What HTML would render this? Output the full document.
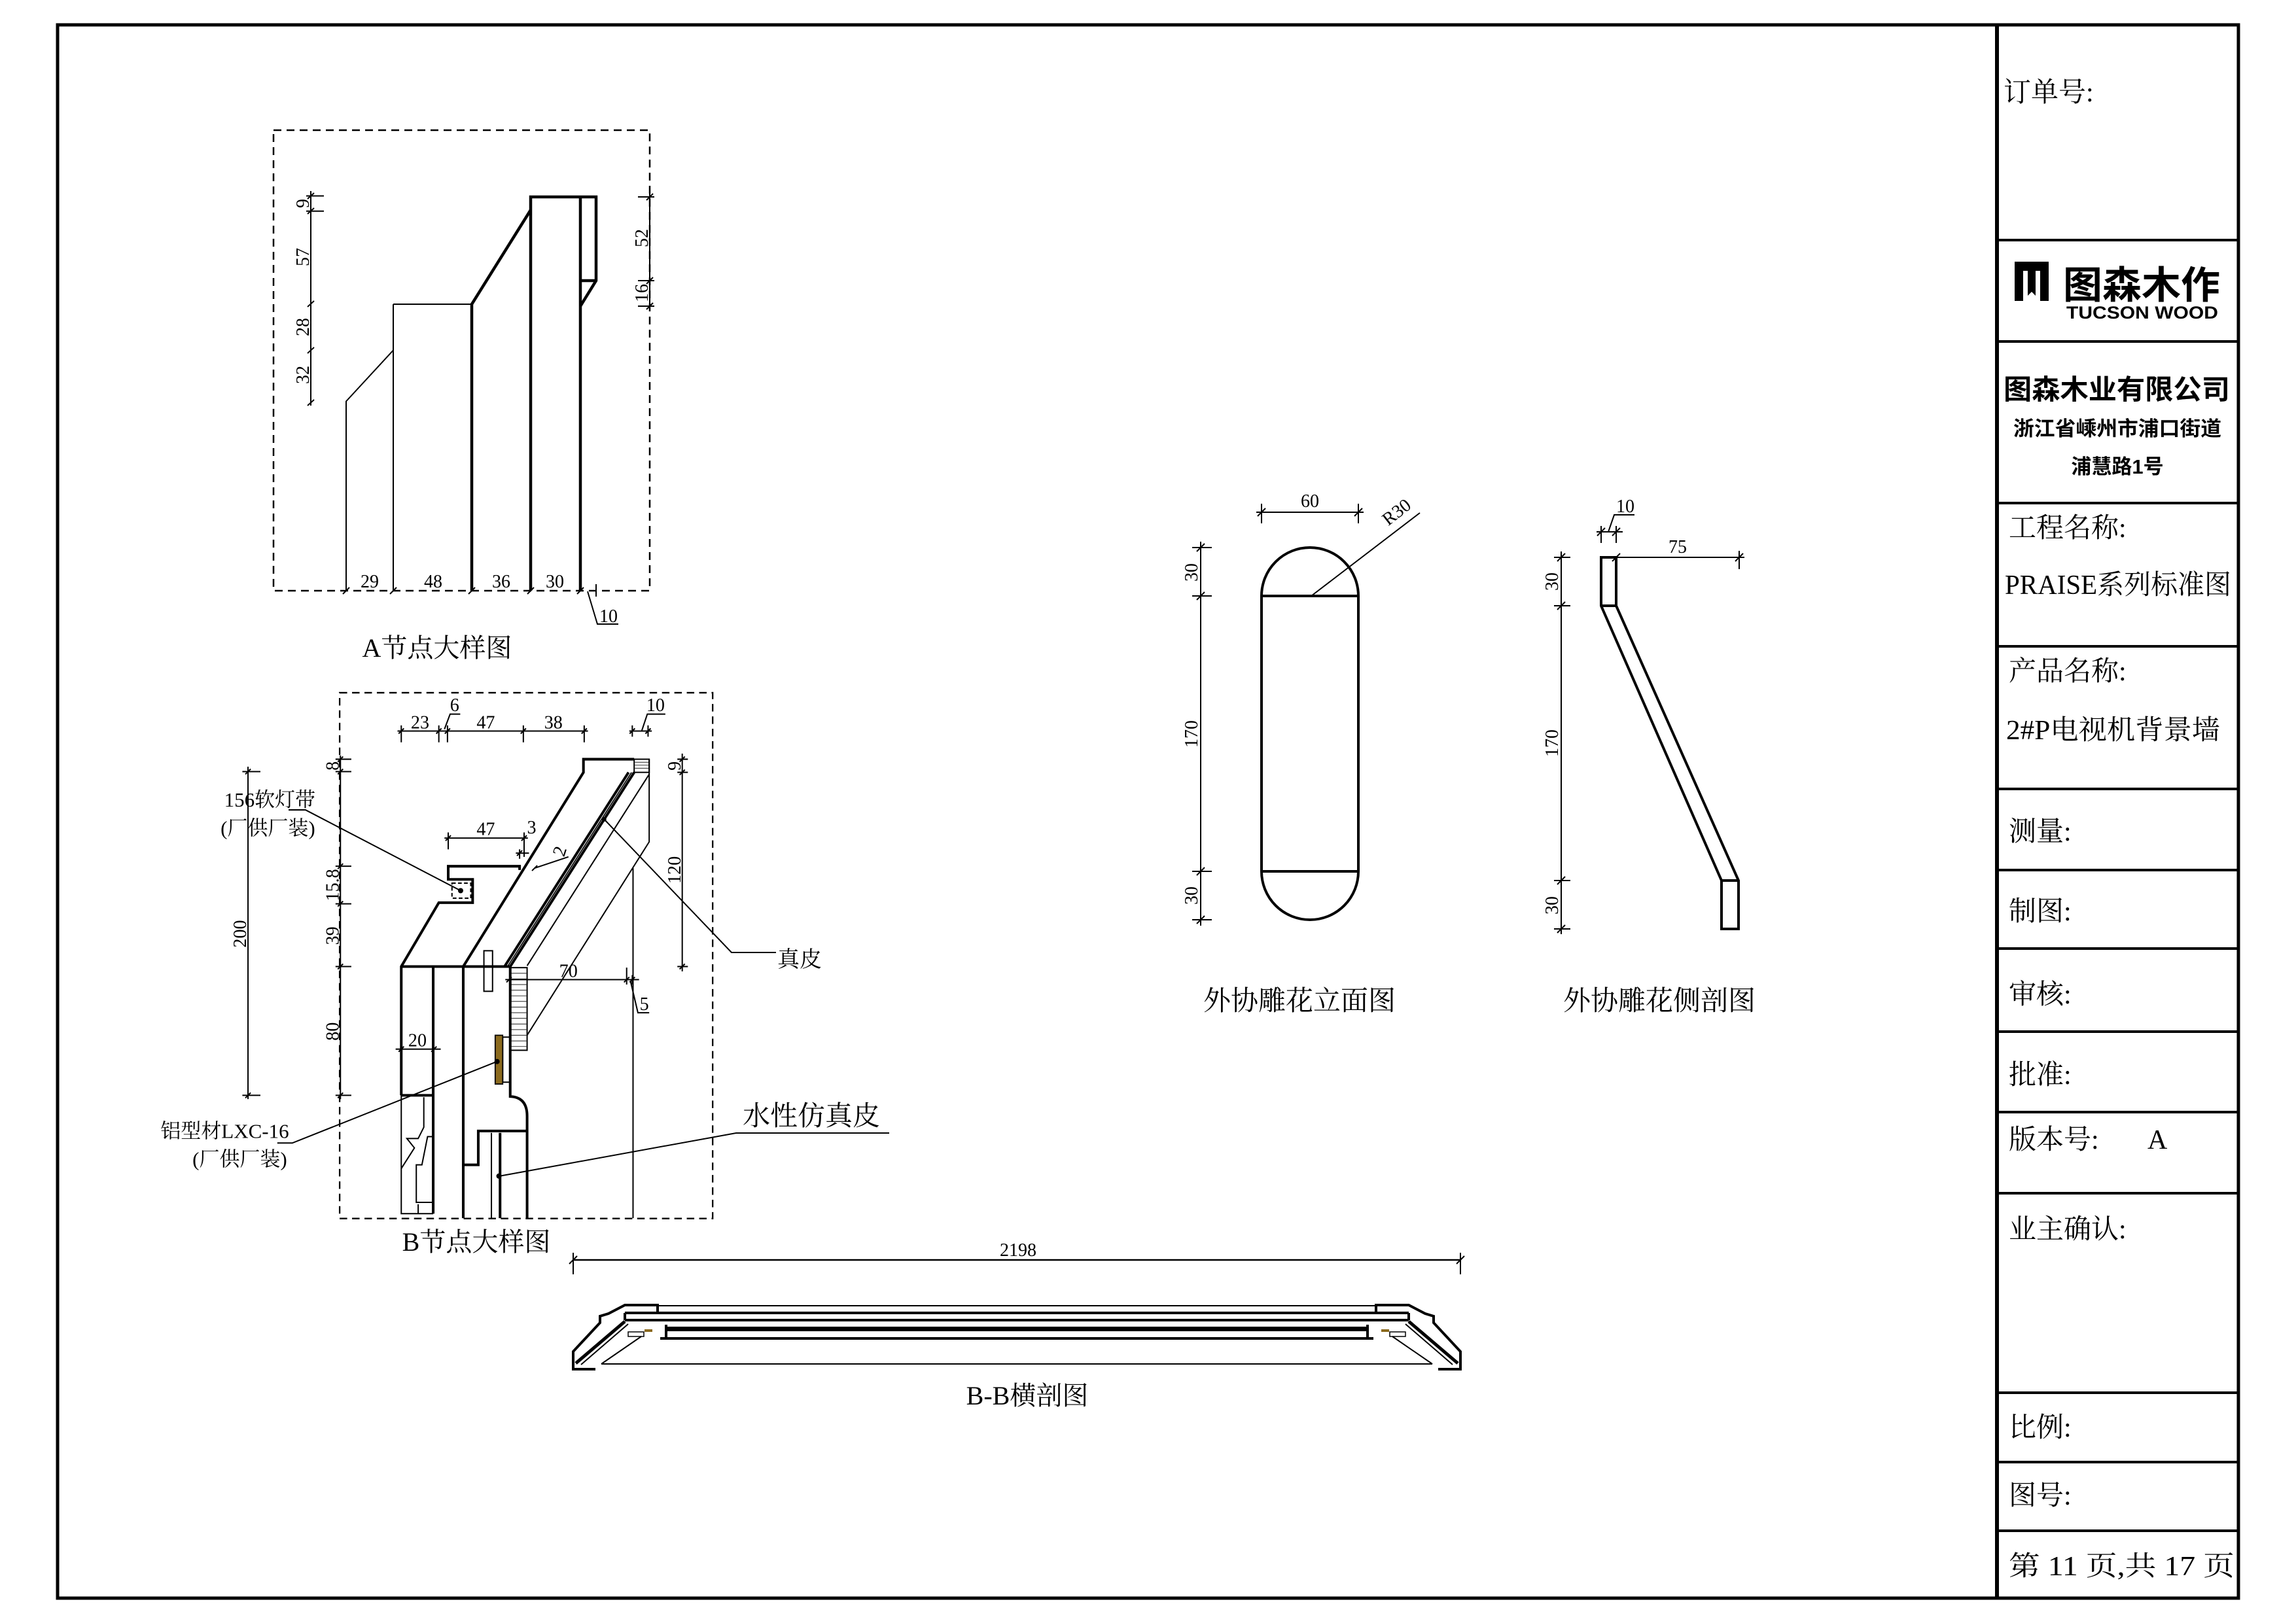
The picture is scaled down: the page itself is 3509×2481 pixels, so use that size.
<!DOCTYPE html>
<html><head><meta charset="utf-8"><style>
html,body{margin:0;padding:0;background:#fff}
svg{display:block}
text{font-family:"Liberation Serif","Noto Serif CJK SC",serif;fill:#000}
.s{font-family:"Liberation Sans","Noto Sans CJK SC",sans-serif;font-weight:bold}
</style></head><body>
<svg width="3509" height="2481" viewBox="0 0 3509 2481" xmlns="http://www.w3.org/2000/svg">
<rect width="3509" height="2481" fill="#fff"/>
<!-- outer frame -->
<rect x="88" y="38" width="3333" height="2405" fill="none" stroke="#000" stroke-width="5"/>
<line x1="3052" y1="38" x2="3052" y2="2443" stroke="#000" stroke-width="6"/>
<g stroke="#000" stroke-width="4">
<line x1="3052" y1="367" x2="3421" y2="367"/>
<line x1="3052" y1="522" x2="3421" y2="522"/>
<line x1="3052" y1="769" x2="3421" y2="769"/>
<line x1="3052" y1="988" x2="3421" y2="988"/>
<line x1="3052" y1="1206" x2="3421" y2="1206"/>
<line x1="3052" y1="1330" x2="3421" y2="1330"/>
<line x1="3052" y1="1450" x2="3421" y2="1450"/>
<line x1="3052" y1="1577" x2="3421" y2="1577"/>
<line x1="3052" y1="1700" x2="3421" y2="1700"/>
<line x1="3052" y1="1824" x2="3421" y2="1824"/>
<line x1="3052" y1="2129" x2="3421" y2="2129"/>
<line x1="3052" y1="2235" x2="3421" y2="2235"/>
<line x1="3052" y1="2340" x2="3421" y2="2340"/>
</g>
<!-- title block text -->
<g font-size="42">
<text x="3062" y="155">订单号:</text>
<text x="3070" y="821">工程名称:</text>
<text x="3064" y="908" textLength="346" lengthAdjust="spacingAndGlyphs">PRAISE系列标准图</text>
<text x="3070" y="1040">产品名称:</text>
<text x="3066" y="1130" textLength="327" lengthAdjust="spacingAndGlyphs">2#P电视机背景墙</text>
<text x="3070" y="1285">测量:</text>
<text x="3070" y="1407">制图:</text>
<text x="3070" y="1534">审核:</text>
<text x="3070" y="1657">批准:</text>
<text x="3070" y="1756">版本号:</text>
<text x="3282" y="1756">A</text>
<text x="3070" y="1893">业主确认:</text>
<text x="3070" y="2196">比例:</text>
<text x="3070" y="2300">图号:</text>
<text x="3070" y="2408" textLength="345" lengthAdjust="spacingAndGlyphs">第 11 页,共 17 页</text>
</g>
<!-- logo -->
<path d="M3079,400 H3131 V460 H3118 V414 H3111 V452 L3105,446 L3099,452 V414 H3092 V460 H3079 Z" fill="#000"/>
<text class="s" x="3153" y="456" font-size="58" textLength="240" lengthAdjust="spacingAndGlyphs">图森木作</text>
<text class="s" x="3158" y="487" font-size="27" textLength="232" lengthAdjust="spacingAndGlyphs">TUCSON WOOD</text>
<text class="s" x="3062" y="610" font-size="42" textLength="346" lengthAdjust="spacingAndGlyphs">图森木业有限公司</text>
<text class="s" x="3236" y="666" font-size="31" text-anchor="middle" textLength="318" lengthAdjust="spacingAndGlyphs">浙江省嵊州市浦口街道</text>
<text class="s" x="3236" y="724" font-size="31" text-anchor="middle">浦慧路1号</text>

<!-- ============ A detail ============ -->
<rect x="418" y="199" width="575" height="704" fill="none" stroke="#000" stroke-width="2.5" stroke-dasharray="12,8"/>
<g fill="none" stroke="#000" stroke-width="2">
<polyline points="529,903 529,613.5 601,535.4"/>
<line x1="601" y1="465" x2="601" y2="903"/>
<line x1="601" y1="465" x2="721" y2="465"/>
</g>
<g fill="none" stroke="#000" stroke-width="4.5">
<polyline points="721,903 721,465 811,321"/>
<polyline points="811,903 811,301 911,301 911,429 887,468"/>
<line x1="887" y1="301" x2="887" y2="903"/>
<line x1="887" y1="429" x2="911" y2="429"/>
</g>
<g stroke="#000" stroke-width="2" fill="none">
<line x1="475" y1="292" x2="475" y2="620"/>
<line x1="468" y1="299.5" x2="495" y2="299.5"/>
<line x1="468" y1="322.7" x2="495" y2="322.7"/>
<path d="M470,304 l10,-9 M470,327 l10,-9 M470,469 l10,-9 M470,540 l10,-9 M470,620 l10,-9"/>
<line x1="993" y1="295" x2="993" y2="475"/>
<line x1="975" y1="301" x2="1000" y2="301"/>
<line x1="975" y1="429" x2="1000" y2="429"/>
<line x1="975" y1="468" x2="1000" y2="468"/>
<path d="M988,306 l10,-10 M988,434 l10,-10 M988,473 l10,-10"/>
<path d="M524,908 l10,-10 M596,908 l10,-10 M716,908 l10,-10 M806,908 l10,-10 M882,908 l10,-10"/>
<line x1="911" y1="893" x2="911" y2="912"/>
<polyline points="898,904 913,954 945,954"/>
</g>
<g font-size="28" text-anchor="middle">
<text transform="translate(472,311) rotate(-90)">9</text>
<text transform="translate(472,393) rotate(-90)">57</text>
<text transform="translate(472,500) rotate(-90)">28</text>
<text transform="translate(472,573) rotate(-90)">32</text>
<text transform="translate(990,364) rotate(-90)">52</text>
<text transform="translate(990,448) rotate(-90)">16</text>
<text x="565" y="898">29</text>
<text x="662" y="898">48</text>
<text x="766" y="898">36</text>
<text x="848" y="898">30</text>
<text x="930" y="951">10</text>
</g>
<text x="668" y="1004" font-size="40" text-anchor="middle">A节点大样图</text>

<!-- ============ B detail (zoom coords) ============ -->
<g transform="translate(220,1040) scale(0.5741)">
<rect x="521" y="33" width="993" height="1400" fill="none" stroke="#000" stroke-width="4" stroke-dasharray="20,13"/>
<g fill="none" stroke="#000" stroke-width="7">
<polyline points="685,1105 685,762 785,592 875,592 875,530 810,530 810,495 1000,495 1000,505"/>
<polyline points="850,762 1170,245 1170,210 1305,210"/>
<line x1="685" y1="762" x2="975" y2="762"/>
<line x1="685" y1="1105" x2="770" y2="1105"/>
<line x1="770" y1="762" x2="770" y2="1420"/>
<line x1="850" y1="762" x2="850" y2="1432"/>
<path d="M975,762 V1108 Q1020,1110 1020,1160 V1432"/>
<polyline points="850,1290 890,1290 890,1200 1020,1200"/>
<line x1="948" y1="1205" x2="948" y2="1432"/>
<line x1="960" y1="762" x2="1290" y2="245"/>
<line x1="975" y1="762" x2="1305" y2="245"/>
<line x1="968" y1="762" x2="1298" y2="245" stroke-width="3"/>
</g>
<g fill="none" stroke="#000" stroke-width="3.5">
<line x1="925" y1="1205" x2="925" y2="1432"/>
<line x1="1020" y1="760" x2="1345" y2="250"/>
<polyline points="1020,945 1345,430 1345,210"/>
<rect x="975" y="765" width="45" height="220"/>
<rect x="1305" y="210" width="40" height="35"/>
<rect x="905" y="720" width="23" height="108"/>
<rect x="955" y="950" width="20" height="120"/>
<rect x="820" y="540" width="50" height="40" stroke-dasharray="10,6"/>
<line x1="1302" y1="500" x2="1302" y2="1432"/>
<polyline points="685,1105 685,1420 770,1420"/>
<polyline points="745,1110 745,1190 730,1220 700,1220 720,1245 685,1300"/>
<polyline points="770,1215 755,1215 740,1290 725,1290 725,1390 770,1390"/>
<polyline points="730,1395 730,1420"/>
</g>
<g stroke="#000" stroke-width="1.5">
<path d="M977,780 H1018 M977,795 H1018 M977,810 H1018 M977,825 H1018 M977,840 H1018 M977,855 H1018 M977,870 H1018 M977,885 H1018 M977,900 H1018 M977,915 H1018 M977,930 H1018 M977,945 H1018 M977,960 H1018 M977,975 H1018"/>
<path d="M1307,218 H1343 M1307,226 H1343 M1307,234 H1343"/>
</g>
<rect x="935" y="945" width="20" height="130" fill="#8B6A1E" stroke="#000" stroke-width="3"/>
<circle cx="843" cy="560" r="7" fill="#000"/>
<circle cx="940" cy="1015" r="7" fill="#000"/>
<circle cx="945" cy="1320" r="7" fill="#000"/>
<circle cx="1225" cy="370" r="6" fill="#000"/>
<!-- dims -->
<g fill="none" stroke="#000" stroke-width="3.5">
<line x1="675" y1="135" x2="1182" y2="135"/>
<path d="M685,120 V165 M785,120 V165 M808,120 V165 M1010,120 V165 M1172,120 V165"/>
<path d="M678,142 l14,-14 M778,142 l14,-14 M801,142 l14,-14 M1003,142 l14,-14 M1165,142 l14,-14"/>
<polyline points="800,130 815,90 842,90"/>
<line x1="1292" y1="135" x2="1352" y2="135"/>
<path d="M1300,120 V150 M1342,120 V150 M1293,142 l14,-14 M1335,142 l14,-14"/>
<polyline points="1325,135 1340,90 1388,90"/>
<line x1="523" y1="200" x2="523" y2="1115"/>
<path d="M510,210 H552 M510,243 H552 M510,495 H552 M510,595 H552 M510,762 H552 M510,1105 H552"/>
<path d="M516,217 l14,-14 M516,250 l14,-14 M516,502 l14,-14 M516,602 l14,-14 M516,769 l14,-14 M516,1112 l14,-14"/>
<line x1="277" y1="230" x2="277" y2="1115"/>
<path d="M262,243 H310 M262,1105 H310 M270,250 l14,-14 M270,1112 l14,-14"/>
<line x1="1433" y1="195" x2="1433" y2="775"/>
<path d="M1420,210 H1448 M1420,245 H1448 M1420,762 H1448 M1426,217 l14,-14 M1426,252 l14,-14 M1426,769 l14,-14"/>
<line x1="800" y1="420" x2="1022" y2="420"/>
<path d="M810,405 V450 M1012,405 V470 M803,427 l14,-14 M1005,427 l14,-14"/>
<path d="M990,460 H1025 M1000,450 V475 M993,467 l14,-14"/>
<polyline points="1040,500 1130,470"/>
<path d="M1033,507 l14,-14"/>
<line x1="962" y1="797" x2="1318" y2="797"/>
<path d="M1285,765 V810 M1300,785 V810 M1278,804 l14,-14 M1293,804 l14,-14 M965,804 l14,-14"/>
<polyline points="1295,800 1315,885 1345,885"/>
<line x1="670" y1="982" x2="790" y2="982"/>
<path d="M678,989 l14,-14 M765,989 l14,-14"/>
<polyline points="385,345 430,345 843,560"/>
<polyline points="355,1232 395,1232 940,1015"/>
</g>
<g font-size="49" text-anchor="middle">
<text x="735" y="128">23</text>
<text x="827" y="82">6</text>
<text x="910" y="128">47</text>
<text x="1090" y="128">38</text>
<text x="1362" y="82">10</text>
<text transform="translate(518,228) rotate(-90)">8</text>
<text transform="translate(518,545) rotate(-90)">15.8</text>
<text transform="translate(518,680) rotate(-90)">39</text>
<text transform="translate(518,935) rotate(-90)">80</text>
<text transform="translate(272,675) rotate(-90)">200</text>
<text transform="translate(1428,228) rotate(-90)">9</text>
<text transform="translate(1428,505) rotate(-90)">120</text>
<text x="910" y="412">47</text>
<text x="1032" y="408">3</text>
<text transform="translate(1122,460) rotate(-72)">2</text>
<text x="1130" y="790">70</text>
<text x="1332" y="878">5</text>
<text x="728" y="975">20</text>
</g>
<g font-size="54" text-anchor="middle">
<text x="335" y="336">156软灯带</text>
<text x="330" y="412">(厂供厂装)</text>
<text x="215" y="1218">铝型材LXC-16</text>
<text x="255" y="1293">(厂供厂装)</text>
</g>
</g>
<g fill="none" stroke="#000" stroke-width="2">
<polyline points="923,1252 1118,1456 1186,1456"/>
<polyline points="762.5,1798 1125,1732 1359,1732"/>
</g>
<text x="1188" y="1478" font-size="34">真皮</text>
<text x="1135" y="1720" font-size="42">水性仿真皮</text>
<text x="728" y="1912" font-size="40" text-anchor="middle">B节点大样图</text>

<!-- ============ B-B ============ -->
<g stroke="#000" fill="none">
<line x1="876" y1="1926" x2="2232" y2="1926" stroke-width="2.5"/>
<path d="M876,1915 V1948 M2232,1915 V1948 M870,1932 l12,-12 M2226,1932 l12,-12" stroke-width="2"/>
</g>
<text x="1556" y="1920" font-size="28" text-anchor="middle">2198</text>
<g id="bbL" fill="none" stroke="#000">
<polyline points="1005,2006 1005,1995 955,1995 930,2008 917,2012 917,2022 876,2066 876,2093 910,2093" stroke-width="4"/>
<line x1="955" y1="2020" x2="880" y2="2084" stroke-width="5"/>
<line x1="960" y1="2024" x2="888" y2="2086" stroke-width="2"/>
<line x1="980" y1="2043" x2="919" y2="2085" stroke-width="2"/>
<line x1="955" y1="2007" x2="955" y2="2018" stroke-width="4"/>
<rect x="960" y="2036" width="24" height="7" stroke-width="1.5"/>
<polyline points="1018,2025 1018,2046 1009,2046" stroke-width="4"/>
</g>
<use href="#bbL" transform="translate(3108,0) scale(-1,1)"/>
<g stroke="#000" fill="none">
<line x1="1005" y1="1996" x2="2103" y2="1996" stroke-width="2"/>
<line x1="955" y1="2007" x2="2153" y2="2007" stroke-width="4"/>
<line x1="955" y1="2018" x2="2153" y2="2018" stroke-width="4"/>
<line x1="1009" y1="2046" x2="2099" y2="2046" stroke-width="4"/>
<line x1="919" y1="2085" x2="2189" y2="2085" stroke-width="2"/>
</g>
<rect x="1018" y="2028" width="1072" height="7" fill="#000"/>
<rect x="985" y="2032" width="12" height="4" fill="#8B6A1E"/>
<rect x="2111" y="2032" width="12" height="4" fill="#8B6A1E"/>
<text x="1570" y="2147" font-size="40" text-anchor="middle">B-B横剖图</text>

<!-- ============ Elevation ============ -->
<g fill="none" stroke="#000" stroke-width="4">
<path d="M1928,911 A74,74 0 0 1 2076,911 V1332 A74,74 0 0 1 1928,1332 Z"/>
<line x1="1928" y1="911" x2="2076" y2="911"/>
<line x1="1928" y1="1332" x2="2076" y2="1332"/>
</g>
<g fill="none" stroke="#000" stroke-width="2">
<line x1="1835" y1="828" x2="1835" y2="1415"/>
<path d="M1822,837 H1852 M1822,911 H1852 M1822,1332 H1852 M1822,1406 H1852"/>
<path d="M1829,843 l12,-12 M1829,917 l12,-12 M1829,1338 l12,-12 M1829,1412 l12,-12"/>
<line x1="1920" y1="783" x2="2084" y2="783"/>
<path d="M1928,770 V800 M2076,770 V800 M1922,789 l12,-12 M2070,789 l12,-12"/>
<line x1="2004" y1="911" x2="2170" y2="784"/>
</g>
<g font-size="28" text-anchor="middle">
<text transform="translate(1830,875) rotate(-90)">30</text>
<text transform="translate(1830,1122) rotate(-90)">170</text>
<text transform="translate(1830,1369) rotate(-90)">30</text>
<text x="2002" y="775">60</text>
<text transform="translate(2140,790) rotate(-38)">R30</text>
</g>
<text x="1986" y="1544" font-size="42" text-anchor="middle">外协雕花立面图</text>

<!-- ============ Side section ============ -->
<g fill="none" stroke="#000" stroke-width="4">
<path d="M2447,852 L2470,852 L2470,926 L2657,1346 L2657,1420 L2631,1420 L2631,1346 L2447,926 Z"/>
<line x1="2447" y1="926" x2="2470" y2="926"/>
<line x1="2631" y1="1346" x2="2657" y2="1346"/>
</g>
<g fill="none" stroke="#000" stroke-width="2">
<line x1="2386" y1="843" x2="2386" y2="1428"/>
<path d="M2375,852 H2400 M2375,926 H2400 M2375,1346 H2400 M2375,1420 H2400"/>
<path d="M2380,858 l12,-12 M2380,932 l12,-12 M2380,1352 l12,-12 M2380,1426 l12,-12"/>
<line x1="2470" y1="852" x2="2666" y2="852"/>
<path d="M2658,842 V870 M2652,858 l12,-12 M2464,858 l12,-12"/>
<line x1="2440" y1="813" x2="2480" y2="813"/>
<path d="M2447,804 V830 M2470,804 V830 M2441,819 l12,-12 M2464,819 l12,-12"/>
<polyline points="2458,813 2467,787 2498,787"/>
</g>
<g font-size="28" text-anchor="middle">
<text transform="translate(2381,889) rotate(-90)">30</text>
<text transform="translate(2381,1136) rotate(-90)">170</text>
<text transform="translate(2381,1384) rotate(-90)">30</text>
<text x="2564" y="845">75</text>
<text x="2484" y="783">10</text>
</g>
<text x="2536" y="1544" font-size="42" text-anchor="middle">外协雕花侧剖图</text>
</svg>
</body></html>
